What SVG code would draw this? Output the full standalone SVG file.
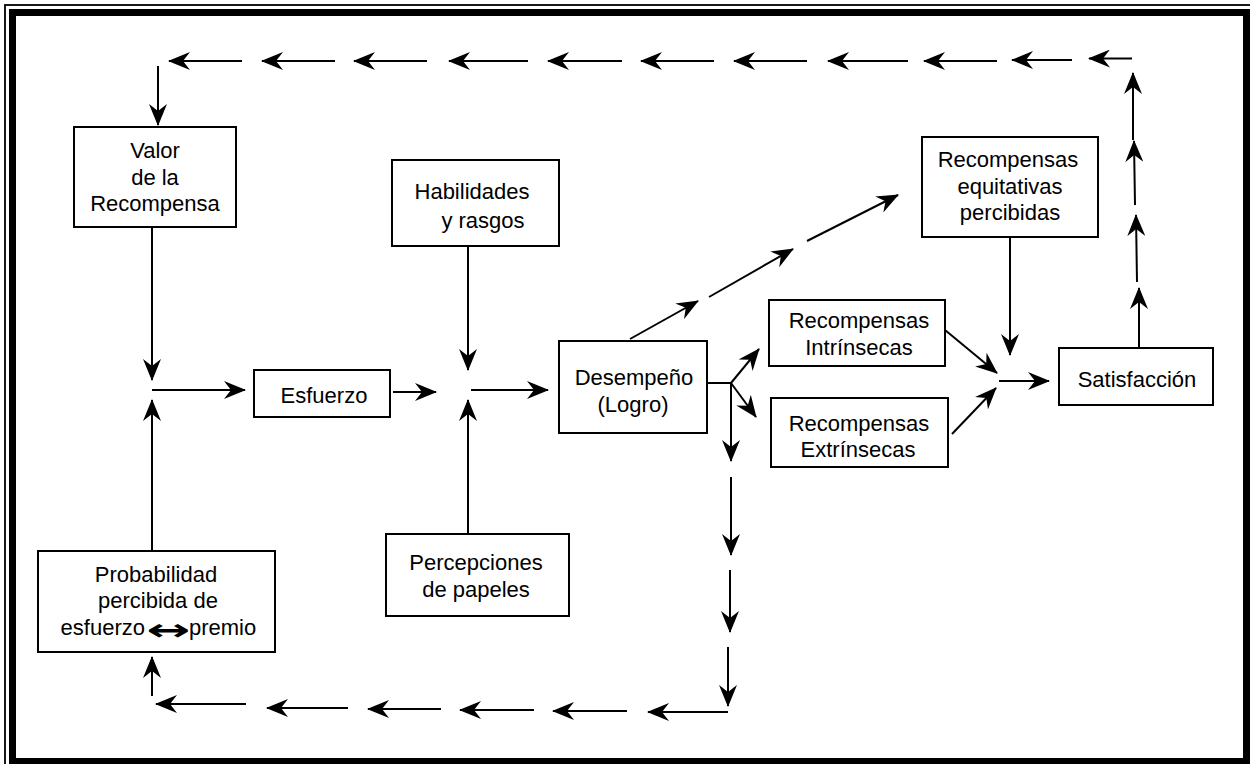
<svg xmlns="http://www.w3.org/2000/svg" width="1250" height="764" viewBox="0 0 1250 764">
<defs>
<style>
.box{fill:#fff;stroke:#000;stroke-width:2}
.t{font-family:"Liberation Sans",Arial,sans-serif;font-size:22px;fill:#000;text-anchor:middle}
.c{fill:none;stroke:#000;stroke-width:2;marker-end:url(#ah)}
.p{fill:none;stroke:#000;stroke-width:2}
</style>
<marker id="ah" markerUnits="userSpaceOnUse" markerWidth="22" markerHeight="18" viewBox="0 0 22 18" refX="21" refY="9" orient="auto">
<path d="M0,0 L22,9 L0,18 L7,9 Z" fill="#000"/>
</marker>
</defs>
<rect x="0" y="0" width="1250" height="764" fill="#fff"/>
<g id="frame">
<rect x="5" y="5" width="1260" height="780" fill="none" stroke="#000" stroke-width="1.8"/>
<rect x="12.5" y="12.5" width="1234" height="749" fill="none" stroke="#000" stroke-width="7"/>
</g>
<g id="connectors">
<path class="c" d="M242,61 L169,61"/>
<path class="c" d="M335,61 L262,61"/>
<path class="c" d="M427,61 L354,61"/>
<path class="c" d="M528,61 L449,61"/>
<path class="c" d="M622,61 L548,61"/>
<path class="c" d="M714,61 L641,61"/>
<path class="c" d="M807,61 L734,61"/>
<path class="c" d="M908,61 L828,61"/>
<path class="c" d="M997,61 L924,61"/>
<path class="c" d="M1072,60 L1012,60"/>
<path class="c" d="M1132,58.5 L1089,58.5"/>
<path class="c" d="M158,66 L158,125"/>
<path class="c" d="M1139,347 L1139,288"/>
<path class="c" d="M1137,282 L1136,215"/>
<path class="c" d="M1135,205 L1134,141"/>
<path class="c" d="M1133,140 L1133,73"/>
<path class="c" d="M152,227 L152,380"/>
<path class="c" d="M152,551 L152,400"/>
<path class="c" d="M152,390 L245,390"/>
<path class="c" d="M393,392 L436,392"/>
<path class="c" d="M468,246 L468,370"/>
<path class="c" d="M468,534 L468,400"/>
<path class="c" d="M471,390 L548,390"/>
<path class="c" d="M630,339 L698,301"/>
<path class="c" d="M709,297 L793,249"/>
<path class="c" d="M807,241 L898,195"/>
<path class="p" d="M707,383 L731,383"/>
<path class="c" d="M731,383 L759,349"/>
<path class="c" d="M731,383 L756,417"/>
<path class="c" d="M731,383 L731,461"/>
<path class="c" d="M731,477 L731,555"/>
<path class="c" d="M730,570 L730,632"/>
<path class="c" d="M728,647 L728,706"/>
<path class="c" d="M728,712 L648,712"/>
<path class="c" d="M627,711 L553,711"/>
<path class="c" d="M534,710 L460,710"/>
<path class="c" d="M441,709 L368,709"/>
<path class="c" d="M348,708 L267,708"/>
<path class="c" d="M246,704 L156,704"/>
<path class="c" d="M152,696 L152,657"/>
<path class="c" d="M1010,237 L1010,355"/>
<path class="c" d="M945,330 L997,373"/>
<path class="c" d="M952,434 L996,388"/>
<path class="c" d="M999,381 L1049,381"/>
</g>
<g id="valor">
<rect class="box" x="74" y="127" width="162" height="100"/>
<text class="t" x="155" y="158">Valor</text>
<text class="t" x="155" y="185">de la</text>
<text class="t" x="155" y="211">Recompensa</text>
</g>
<g id="habilidades">
<rect class="box" x="392" y="160" width="167" height="86"/>
<text class="t" x="472" y="199">Habilidades</text>
<text class="t" x="483" y="228">y rasgos</text>
</g>
<g id="esfuerzo">
<rect class="box" x="254" y="370" width="136" height="47"/>
<text class="t" x="324" y="403">Esfuerzo</text>
</g>
<g id="desempeno">
<rect class="box" x="559" y="341" width="148" height="92"/>
<text class="t" x="634" y="385">Desempeño</text>
<text class="t" x="633" y="412">(Logro)</text>
</g>
<g id="percepciones">
<rect class="box" x="386" y="534" width="183" height="82"/>
<text class="t" x="476" y="570">Percepciones</text>
<text class="t" x="476" y="597">de papeles</text>
</g>
<g id="probabilidad">
<rect class="box" x="38" y="551" width="237" height="101"/>
<text class="t" x="156" y="582">Probabilidad</text>
<text class="t" x="158" y="608">percibida de</text>
<text class="t" x="145" y="635" style="text-anchor:end">esfuerzo</text>
<text class="t" transform="translate(168,640) scale(1.75,1)" x="0" y="0" style="font-family:'DejaVu Sans',sans-serif;font-weight:bold;font-size:30px">↔</text>
<text class="t" x="189" y="635" style="text-anchor:start">premio</text>
</g>
<g id="equitativas">
<rect class="box" x="922" y="137" width="176" height="100"/>
<text class="t" x="1008" y="167">Recompensas</text>
<text class="t" x="1010" y="194">equitativas</text>
<text class="t" x="1010" y="220">percibidas</text>
</g>
<g id="intrinsecas">
<rect class="box" x="769" y="300" width="176" height="66"/>
<text class="t" x="859" y="328">Recompensas</text>
<text class="t" x="859" y="355">Intrínsecas</text>
</g>
<g id="extrinsecas">
<rect class="box" x="771" y="398" width="177" height="69"/>
<text class="t" x="859" y="431">Recompensas</text>
<text class="t" x="858" y="457">Extrínsecas</text>
</g>
<g id="satisfaccion">
<rect class="box" x="1059" y="348" width="154" height="57"/>
<text class="t" x="1137" y="387">Satisfacción</text>
</g>
</svg>
